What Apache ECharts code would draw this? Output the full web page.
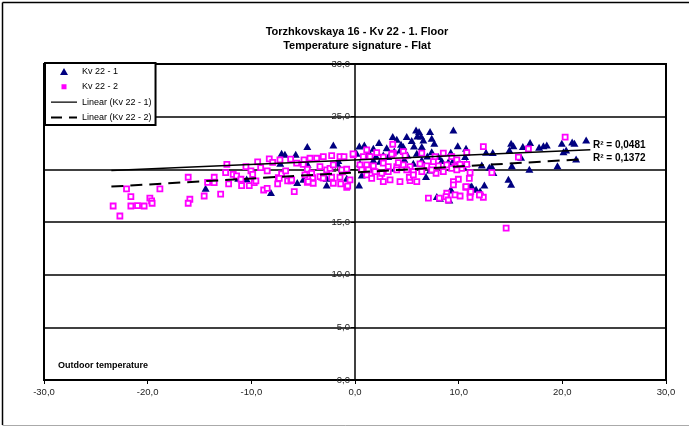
<!DOCTYPE html>
<html><head><meta charset="utf-8">
<script src="https://cdn.jsdelivr.net/npm/echarts@6/dist/echarts.min.js"></script>
<style>html,body{margin:0;padding:0;background:#fff}#c{width:689px;height:427px}</style>
</head><body><div id="c"></div>
<script>
const titleLines = ['Torzhkovskaya 16 - Kv 22 - 1. Floor', 'Temperature signature - Flat'];
const seriesNames = ['Kv 22 - 1', 'Kv 22 - 2', 'Linear (Kv 22 - 1)', 'Linear (Kv 22 - 2)'];
const xTicks = [-30, -20, -10, 0, 10, 20, 30];
const yTicks = [0, 5, 10, 15, 20, 25, 30];
const r2Labels = ['R\u00B2 = 0,0481', 'R\u00B2 = 0,1372'];
const xAxisTitle = 'Outdoor temperature';

// Kv 22 - 1 (triangles): [outdoor temp, indoor temp]
const kv1 = [[-14.41,18.21],[-11.26,19.15],[-10.45,19.09],[-8.11,17.79],[-7.08,21.53],[-6.76,21.43],[-5.72,21.43],[-7.21,20.58],[-5.57,18.74],[-4.6,22.16],[-2.09,22.32],[-4.57,20.48],[-4.25,18.99],[-0.8,19.15],[-1.61,20.83],[0.42,22.22],[0.9,22.32],[0.39,18.52],[1.77,22.0],[2.32,22.54],[0.16,21.53],[1.35,21.65],[3.06,22.06],[3.64,23.11],[4.03,22.86],[4.44,22.38],[4.99,23.11],[5.47,22.73],[5.89,23.74],[6.18,23.58],[6.01,23.17],[6.37,23.17],[6.59,22.79],[7.24,23.58],[7.4,22.95],[7.65,22.48],[9.49,23.74],[6.44,22.16],[5.69,22.22],[4.66,22.16],[4.34,21.84],[3.79,21.75],[2.73,21.37],[2.03,21.27],[0.97,21.21],[1.77,20.89],[3.21,21.21],[5.05,21.37],[4.76,20.96],[5.63,20.58],[5.96,21.53],[6.44,20.89],[6.98,21.27],[8.04,21.21],[8.37,20.83],[9.0,20.73],[9.49,20.89],[10.04,20.73],[10.78,20.58],[12.23,20.42],[12.96,20.2],[-4.99,19.06],[-2.73,19.15],[-2.73,18.52],[-1.71,20.58],[0.65,19.47],[1.52,20.01],[0.48,20.58],[6.85,19.31],[7.24,19.94],[7.89,17.41],[9.1,17.09],[8.2,17.26],[9.24,18.11],[11.26,18.42],[11.68,18.11],[12.07,17.95],[9.91,22.25],[10.71,22.0],[12.64,21.62],[13.29,21.59],[15.06,22.48],[15.28,22.25],[14.89,21.84],[16.19,22.16],[16.89,22.54],[17.76,22.1],[18.18,22.25],[18.5,22.32],[19.95,22.48],[20.95,22.6],[21.17,22.48],[20.37,21.84],[20.11,21.68],[21.33,20.99],[16.02,21.15],[15.13,20.35],[16.82,20.01],[13.2,20.26],[13.35,19.69],[14.8,19.06],[15.06,18.58],[11.1,18.36],[9.27,18.04],[19.53,20.35],[10.62,21.21],[10.45,20.26],[22.3,22.79],[7.4,21.68],[9.24,21.62],[2.41,20.77],[3.86,20.1],[12.48,18.52]];

// Kv 22 - 2 (squares)
const kv2 = [[-23.33,16.52],[-22.68,15.57],[-22.04,18.14],[-21.62,17.41],[-21.62,16.52],[-20.98,16.55],[-20.34,16.52],[-19.79,17.26],[-19.62,17.0],[-19.57,16.78],[-18.82,18.14],[-16.09,19.25],[-15.93,17.16],[-16.09,16.78],[-14.55,17.47],[-14.22,18.77],[-13.58,19.25],[-13.58,18.74],[-12.96,17.64],[-12.48,19.69],[-12.36,20.48],[-12.19,18.61],[-11.75,19.53],[-11.42,19.37],[-11.0,19.06],[-10.94,18.45],[-10.52,20.26],[-10.2,18.45],[-10.04,19.85],[-9.87,19.53],[-9.72,18.74],[-9.56,18.9],[-9.39,20.7],[-9.1,20.16],[-8.81,18.04],[-8.47,19.85],[-8.47,18.2],[-8.27,20.99],[-7.94,20.67],[-7.46,18.61],[-7.4,19.21],[-7.08,19.56],[-6.69,19.85],[-6.5,18.9],[-6.21,20.96],[-6.18,18.9],[-5.86,17.88],[-5.63,20.58],[-7.24,20.89],[-4.92,20.89],[-4.34,21.05],[-3.7,21.05],[-3.06,21.21],[-2.25,21.3],[-1.45,21.21],[-1.06,21.21],[-0.16,21.37],[-7.31,19.15],[-6.11,18.99],[-4.6,18.77],[-4.08,19.21],[-4.51,18.83],[-4.03,18.68],[-3.21,19.25],[-2.73,19.94],[-2.25,19.25],[-1.45,19.25],[-1.38,18.61],[-0.8,18.3],[-1.19,19.75],[-4.99,20.48],[-4.6,20.01],[-3.38,20.26],[-2.41,20.1],[-2.09,20.42],[-1.28,19.94],[-0.8,20.01],[-4.83,19.47],[-4.18,19.63],[-3.38,19.31],[-3.06,19.16],[-2.09,18.68],[-0.48,18.99],[0.48,20.42],[1.13,20.42],[1.77,20.32],[2.73,20.58],[3.21,20.26],[4.03,20.26],[4.66,20.42],[5.31,20.26],[6.27,20.51],[6.92,20.32],[8.04,20.32],[8.85,20.42],[9.65,20.26],[10.3,20.1],[1.13,21.84],[2.09,21.59],[3.7,21.53],[4.66,21.68],[6.44,21.53],[8.52,21.53],[9.33,21.21],[9.82,20.89],[10.14,20.48],[12.38,22.16],[13.2,19.69],[10.78,20.48],[7.56,20.73],[1.13,19.47],[2.41,19.31],[2.73,18.83],[3.38,18.99],[4.34,18.83],[5.31,18.92],[5.96,18.83],[4.03,19.94],[4.99,19.94],[5.63,19.78],[8.52,19.78],[7.82,19.63],[9.33,20.1],[7.08,17.26],[8.14,17.26],[8.85,17.73],[8.78,17.41],[9.0,17.09],[9.65,17.57],[10.14,17.47],[10.69,18.3],[11.1,17.73],[11.1,17.35],[12.07,17.57],[12.38,17.35],[9.97,19.06],[9.49,18.83],[9.49,18.52],[11.03,19.15],[20.27,23.05],[16.73,21.94],[10.78,21.59],[15.76,21.15],[11.1,19.69],[10.71,18.36],[11.17,17.88],[12.0,17.57],[14.58,14.41],[-0.19,21.46],[0.8,21.21],[1.45,21.21],[0.65,19.94],[1.28,19.94],[1.61,19.15],[-0.7,18.42],[3.64,22.38],[2.73,21.15],[3.54,21.43],[4.83,21.27],[7.72,21.21],[1.93,19.78],[2.58,19.63],[3.21,19.78],[7.4,19.94],[6.44,19.78],[4.18,20.64],[5.24,19.25],[5.63,19.47],[9.82,19.94]];

// Linear trend lines (end points)
const trend1 = [[-23.5, 19.9], [22.7, 21.85]];
const trend2 = [[-23.5, 18.36], [22.0, 20.96]];

const FONT = 'Arial, "Liberation Sans", sans-serif';
const fmt = v => v.toFixed(1).replace('.', ',');

// legend icons drawn in a 26x8 box (tiny corner dots keep the box size)
const BOX0 = 'M0,0h0.01v0.01h-0.01z ', BOX1 = ' M26,8h-0.01v-0.01h0.01z';
const iconTri = 'path://' + BOX0 + 'M13,0.5L17,7.5L9,7.5z' + BOX1;
const iconSq = 'path://' + BOX0 + 'M10.5,1.5h5v5h-5z' + BOX1;
const iconSolid = 'path://' + BOX0 + 'M0,3.3h26v1.4h-26z' + BOX1;
const iconDash = 'path://' + BOX0 + 'M0,3h11v2h-11z M18,3h8v2h-8z' + BOX1;

const chart = echarts.init(document.getElementById('c'), null, {renderer: 'canvas'});
chart.setOption({
  animation: false,
  backgroundColor: '#fff',
  title: {
    text: titleLines.join('\n'),
    left: 352, top: 20, textAlign: 'center',
    textStyle: {fontFamily: FONT, fontSize: 11, fontWeight: 'bold', color: '#000', lineHeight: 14}
  },
  grid: {left: 44, right: 23, top: 64, bottom: 47, show: true, borderColor: '#000', borderWidth: 2, backgroundColor: 'transparent'},
  legend: {
    left: 45, top: 63, orient: 'vertical',
    backgroundColor: '#fff', borderColor: '#000', borderWidth: 2,
    padding: [4, 4, 3, 6], itemGap: 6.3, itemWidth: 26, itemHeight: 8,
    textStyle: {fontFamily: FONT, fontSize: 9, color: '#000'},
    itemStyle: {borderWidth: 0},
    data: [
      {name: seriesNames[0], icon: iconTri, itemStyle: {color: '#000080', borderWidth: 0}},
      {name: seriesNames[1], icon: iconSq, itemStyle: {color: '#ff00ff', borderWidth: 0}},
      {name: seriesNames[2], icon: iconSolid, itemStyle: {color: '#000', borderWidth: 0}},
      {name: seriesNames[3], icon: iconDash, itemStyle: {color: '#000', borderWidth: 0}}
    ]
  },
  xAxis: {
    type: 'value', min: xTicks[0], max: xTicks[xTicks.length - 1], interval: 10,
    axisLine: {onZero: false, lineStyle: {color: '#000', width: 2}},
    axisTick: {show: true, length: 4, lineStyle: {color: '#000', width: 1}},
    axisLabel: {formatter: fmt, fontFamily: FONT, fontSize: 9.5, color: '#222', margin: 7},
    splitLine: {show: false}
  },
  yAxis: {
    type: 'value', min: yTicks[0], max: yTicks[yTicks.length - 1], interval: 5,
    position: 'left', offset: -311,
    axisLine: {onZero: false, lineStyle: {color: '#000', width: 1.5}},
    axisTick: {show: true, length: 4, lineStyle: {color: '#000', width: 1}},
    axisLabel: {formatter: fmt, fontFamily: FONT, fontSize: 9.5, color: '#222', margin: 5, padding: [0, 0, 6, 0]},
    splitLine: {show: true, lineStyle: {color: '#000', width: 1.5}}
  },
  series: [
    {name: seriesNames[0], type: 'scatter', data: kv1, symbol: 'triangle', symbolSize: [8, 7],
     itemStyle: {color: '#000080', opacity: 1}},
    {name: seriesNames[1], type: 'scatter', data: kv2, symbol: 'rect', symbolSize: 5,
     itemStyle: {color: '#ffffff', borderColor: '#ff00ff', borderWidth: 1.8, opacity: 1}},
    {name: seriesNames[2], type: 'line', data: trend1, symbol: 'none', showSymbol: false,
     lineStyle: {color: '#000', width: 1.5}, itemStyle: {color: '#000'}, z: 5},
    {name: seriesNames[3], type: 'line', data: trend2, symbol: 'none', showSymbol: false,
     lineStyle: {color: '#000', width: 2, type: [12, 7]}, itemStyle: {color: '#000'}, z: 5}
  ],
  graphic: [
    {type: 'line', shape: {x1: 2.5, y1: 2.5, x2: 2.5, y2: 425}, style: {stroke: '#000', lineWidth: 1.5}, silent: true},
    {type: 'line', shape: {x1: 2.5, y1: 2.5, x2: 689, y2: 2.5}, style: {stroke: '#000', lineWidth: 1.5}, silent: true},
    {type: 'line', shape: {x1: 2.5, y1: 425.5, x2: 689, y2: 425.5}, style: {stroke: '#aaa', lineWidth: 1}, silent: true},
    {type: 'text', left: 58, top: 361, style: {text: xAxisTitle, font: 'bold 9px ' + FONT, fill: '#000'}},
    {type: 'text', left: 593, top: 140, style: {text: r2Labels[0], font: 'bold 10px ' + FONT, fill: '#000'}},
    {type: 'text', left: 593, top: 153, style: {text: r2Labels[1], font: 'bold 10px ' + FONT, fill: '#000'}}
  ]
});
</script>
</body></html>
